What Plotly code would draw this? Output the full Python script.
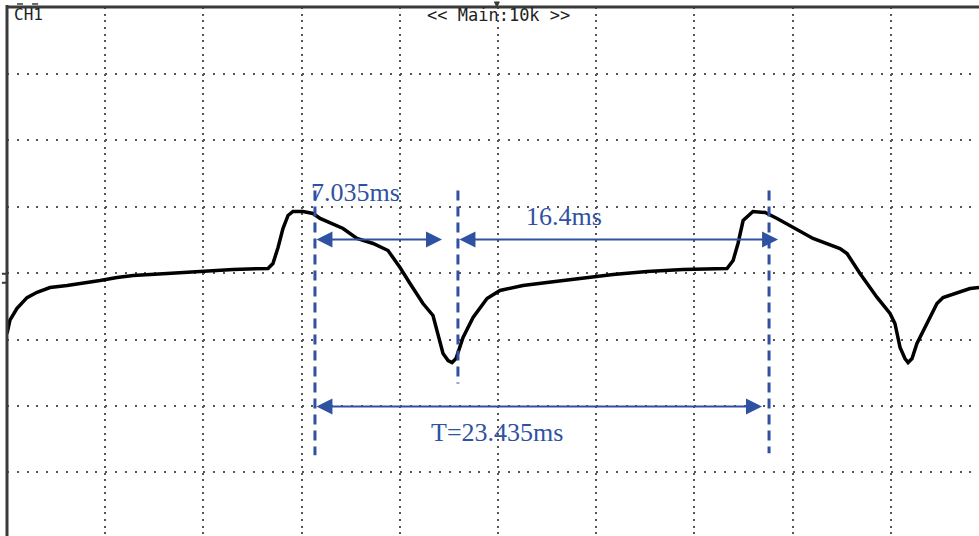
import plotly.graph_objects as go

# ---- waveform (time in ms, 5 ms/div; amplitude in divisions) ----
t_ms = [0.00, 0.15, 0.51, 1.02, 1.53, 2.19, 3.06, 3.87, 4.74, 5.60, 6.42, 8.15,
        9.83, 11.51, 13.29, 13.54, 13.80, 14.05, 14.31, 14.56, 15.07, 15.58, 15.94,
        16.45, 17.11, 17.82, 18.64, 19.40, 20.01, 20.52, 21.18, 21.69, 21.95, 22.20,
        22.46, 22.66, 22.86, 23.22, 23.73, 24.44, 25.10, 26.27, 27.49, 29.18, 30.86,
        32.59, 34.42, 36.66, 36.97, 37.22, 37.48, 37.98, 38.60, 39.21, 40.02, 41.04,
        42.41, 42.77, 43.43, 44.30, 44.96, 45.21, 45.47, 45.72, 45.88, 46.08, 46.33,
        46.84, 47.35, 47.66, 48.37, 49.03, 49.49]
v_div = [-0.91, -0.71, -0.53, -0.37, -0.29, -0.219, -0.188, -0.158, -0.113, -0.068,
         -0.038, -0.008, 0.023, 0.053, 0.068, 0.143, 0.383, 0.669, 0.865, 0.925,
         0.925, 0.895, 0.820, 0.759, 0.669, 0.519, 0.444, 0.338, 0.083, -0.158,
         -0.459, -0.639, -0.910, -1.211, -1.316, -1.346, -1.286, -0.970, -0.669,
         -0.383, -0.263, -0.188, -0.143, -0.083, -0.023, 0.023, 0.053, 0.068, 0.188,
         0.444, 0.789, 0.925, 0.910, 0.820, 0.684, 0.519, 0.368, 0.293, -0.008,
         -0.368, -0.609, -0.759, -1.120, -1.286, -1.346, -1.286, -1.060, -0.759,
         -0.459, -0.368, -0.293, -0.233, -0.218]

# ---- cursors and measurements ----
cursor_t = [15.68, 22.96, 38.80]
cursor_top = [1.24, 1.24, 1.24]
cursor_bottom = [-2.74, -1.66, -2.71]

arrow_start = [15.68, 22.96, 15.68]
arrow_end = [22.15, 39.26, 38.44]
arrow_level = [0.504, 0.504, -2.007]

label_text = ["7.035ms", "16.4ms", "T=23.435ms"]
label_t = [17.72, 28.36, 24.95]
label_v = [1.21, 0.85, -2.40]

header_text = ["CH1", "<< Main:10k >>"]

X_RANGE = [0, 49.49]
Y_RANGE = [-3.955, 4]

BLUE = "#2E51A2"
GRID = "#555555"
BORDER = "#3a3a3a"

fig = go.Figure()
fig.add_trace(go.Scatter(x=t_ms, y=v_div, mode="lines",
                         line=dict(color="black", width=3.5),
                         hoverinfo="skip", showlegend=False))

shapes = []
for ct, top, bot in zip(cursor_t, cursor_top, cursor_bottom):
    shapes.append(dict(type="line", xref="x", yref="y", x0=ct, x1=ct, y0=top, y1=bot,
                       line=dict(color=BLUE, width=3, dash="10px,6px")))

# scope frame: top and left borders
shapes.append(dict(type="line", xref="paper", yref="paper", x0=0, x1=1, y0=1, y1=1,
                   line=dict(color=BORDER, width=3)))
shapes.append(dict(type="line", xref="paper", yref="paper", x0=0, x1=0, y0=0, y1=1.004,
                   line=dict(color=BORDER, width=3)))
# small marks at top-left above the frame
shapes.append(dict(type="line", xref="paper", yref="paper", x0=0.0103, x1=0.0165,
                   y0=1.0057, y1=1.0057, line=dict(color=BORDER, width=1.5)))
shapes.append(dict(type="line", xref="paper", yref="paper", x0=0.0258, x1=0.0320,
                   y0=1.0057, y1=1.0057, line=dict(color=BORDER, width=1.5)))
# ground-level bracket on left edge
shapes.append(dict(type="line", xref="paper", yref="paper", x0=-0.0052, x1=0,
                   y0=0.4957, y1=0.4957, line=dict(color=BORDER, width=2)))
shapes.append(dict(type="line", xref="paper", yref="paper", x0=-0.0052, x1=0,
                   y0=0.4787, y1=0.4787, line=dict(color=BORDER, width=2)))
# trigger marker at top centre
shapes.append(dict(type="path", xref="paper", yref="paper",
                   path="M 0.5015 1.0095 L 0.5065 1.0095 L 0.5040 1.0 Z",
                   fillcolor=BORDER, line=dict(color=BORDER, width=1)))

annotations = []
for a0, a1, lv in zip(arrow_start, arrow_end, arrow_level):
    annotations.append(dict(x=a1, y=lv, ax=a0, ay=lv, xref="x", yref="y",
                            axref="x", ayref="y", text="", showarrow=True,
                            arrowhead=2, startarrowhead=2, arrowside="end+start",
                            arrowsize=1.6, startarrowsize=1.6, arrowwidth=2,
                            arrowcolor=BLUE, standoff=0, startstandoff=0))
for txt, lt, lv in zip(label_text, label_t, label_v):
    annotations.append(dict(x=lt, y=lv, xref="x", yref="y", text=txt, showarrow=False,
                            xanchor="center", yanchor="middle",
                            font=dict(family="Liberation Serif, Times New Roman, serif",
                                      size=26, color=BLUE)))
annotations.append(dict(x=0.005, y=0.986, xref="paper", yref="paper", text=header_text[0],
                        showarrow=False, xanchor="left", yanchor="middle",
                        font=dict(family="DejaVu Sans Mono, monospace", size=16, color="#222")))
annotations.append(dict(x=0.5055, y=0.985, xref="paper", yref="paper", text=header_text[1],
                        showarrow=False, xanchor="center", yanchor="middle",
                        font=dict(family="DejaVu Sans Mono, monospace", size=17, color="#222")))

fig.update_layout(
    width=979, height=536,
    margin=dict(l=7, r=0, t=7, b=0, pad=0),
    paper_bgcolor="white", plot_bgcolor="white",
    shapes=shapes, annotations=annotations,
    showlegend=False,
    xaxis=dict(range=X_RANGE, tick0=0, dtick=5, showticklabels=False, ticks="",
               showgrid=True, gridcolor=GRID, gridwidth=2, griddash="2px,4.65px",
               zeroline=False, showline=False, fixedrange=True),
    yaxis=dict(range=Y_RANGE, tick0=0, dtick=1, showticklabels=False, ticks="",
               showgrid=True, gridcolor=GRID, gridwidth=2, griddash="2px,7.82px",
               zeroline=False, showline=False, fixedrange=True),
)

fig.write_html("out.html", config={"displayModeBar": False},
               post_script="document.body.style.margin='0px';"
                           "document.body.style.overflow='hidden';")
